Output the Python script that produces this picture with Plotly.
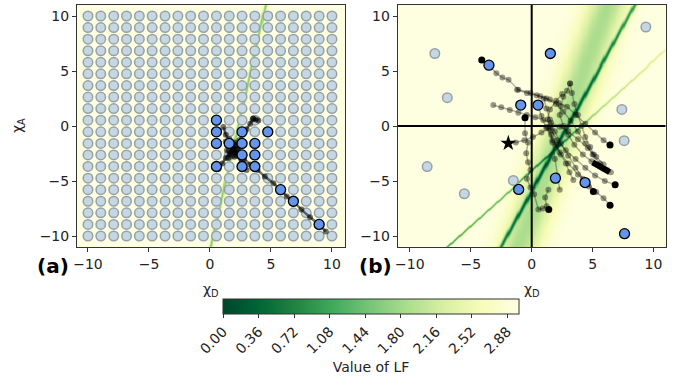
import numpy as np
import plotly.graph_objects as go

# ---------------- data ----------------
grid_vals = [-10.0, -8.95, -7.89, -6.84, -5.79, -4.74, -3.68, -2.63, -1.58, -0.53,
             0.53, 1.58, 2.63, 3.68, 4.74, 5.79, 6.84, 7.89, 8.95, 10.0]

# panel (a) selected points
sel_a_x = [0.53, 0.53, 0.53, 1.58, 2.63, 2.63, 2.63, 3.68, 3.68, 0.53, 2.63, 3.68, 4.74, 5.79, 6.84, 8.95]
sel_a_y = [0.53, -0.53, -1.58, -1.58, -0.53, -1.58, -2.63, -1.58, -2.63, -3.68, -3.68, -3.68, -0.53, -5.79, -6.84, -8.95]

# panel (a) trajectories
traj_a = [
    ([9.5, 8.95, 8.2, 7.5, 6.84, 6.3, 5.79, 5.2, 4.5, 3.9, 3.3, 2.8, 2.3, 2.0],
     [-9.6, -8.95, -8.3, -7.6, -6.84, -6.4, -5.79, -5.2, -4.6, -4.0, -3.5, -3.0, -2.5, -2.1]),
    ([3.55, 3.3, 3.0, 2.7, 2.4, 2.1, 1.9], [0.65, 0.2, -0.3, -0.8, -1.3, -1.7, -2.0]),
    ([0.7, 1.0, 1.3, 1.6, 1.8], [-3.9, -3.4, -2.9, -2.5, -2.1]),
    ([1.1, 1.3, 1.6, 1.8], [-0.1, -0.8, -1.4, -1.9]),
    ([3.0, 2.6, 2.2, 1.9], [-4.0, -3.3, -2.7, -2.2]),
    ([1.3, 1.6, 2.0, 2.4, 2.2, 1.7, 1.4, 1.8, 2.3, 2.0, 1.5, 1.9],
     [-1.4, -1.2, -1.5, -1.9, -2.4, -2.6, -2.2, -1.7, -2.1, -2.8, -2.9, -2.4]),
    ([3.97, 3.75, 3.55], [0.5, 0.6, 0.65]),
]

# panel (b) points
gray_b_x = [-7.95, -6.93, -8.58, -5.53, -1.51, 9.37, 7.40, 7.59]
gray_b_y = [6.59, 2.57, -3.69, -6.16, -4.95, 9.0, 1.51, -1.33]
sel_b_x = [-3.51, 1.53, -0.90, 0.52, -1.07, 1.95, 4.38, 7.62]
sel_b_y = [5.53, 6.59, 1.90, 1.90, -5.77, -4.74, -5.14, -9.79]

# panel (b) trajectories
traj_b = [
    ([-4.1, -3.5, -2.9, -2.4, -1.9, -1.1, -0.1, 0.7, 1.5, 2.2, 2.9, 3.6, 4.4, 5.2, 5.9, 6.4],
     [6.0, 5.5, 4.8, 4.4, 4.2, 3.3, 3.0, 2.7, 2.4, 2.1, 1.75, 1.0, 0.2, -0.6, -1.3, -1.7]),
    ([-3.15, -2.5, -1.8, -1.1, -0.4, 0.3, 0.95, 1.6, 2.3, 3.0, 3.8, 4.6, 5.3, 5.9],
     [1.9, 1.7, 1.45, 1.2, 1.0, 0.8, 0.55, 0.3, -0.06, -0.5, -1.2, -2.0, -2.8, -3.5]),
    ([-1.2, -0.4, 0.4, 1.2, 2.0, 2.6, 3.2, 3.8, 4.4, 5.0, 5.6, 6.2],
     [3.3, 3.0, 2.8, 2.5, 2.0, 1.3, 0.5, -0.5, -1.6, -2.6, -3.4, -4.0]),
    ([3.15, 2.9, 2.6, 2.4, 2.3, 2.6, 3.0, 3.5, 4.2, 4.9, 5.5, 6.0, 6.5],
     [3.87, 3.2, 2.66, 1.8, 1.0, 0.0, -0.8, -1.7, -2.6, -3.2, -3.6, -3.9, -4.2]),
    ([2.5, 2.0, 1.5, 1.3, 1.6, 2.1, 2.8, 3.6, 4.4, 5.2, 6.0, 6.85],
     [2.9, 2.3, 1.5, 0.6, -0.4, -1.3, -2.2, -3.0, -3.8, -4.5, -5.0, -5.35]),
    ([1.0, 1.2, 1.5, 1.9, 2.4, 3.0, 3.6, 4.2, 4.7, 5.06],
     [2.5, 1.6, 0.6, -0.5, -1.6, -2.7, -3.8, -4.8, -5.5, -5.95]),
    ([0.5, 0.8, 1.2, 1.7, 2.3, 3.0, 3.8, 4.6, 5.3, 5.9, 6.43],
     [1.9, 0.9, -0.2, -1.3, -2.4, -3.4, -4.4, -5.3, -6.0, -6.56, -7.2]),
    ([-0.55, -0.55, -0.3, -0.45, -0.3, -0.1, -0.4, -0.1, 0.2, 0.55, 0.9, 1.23, 1.1, 1.37],
     [0.7, -0.66, -1.5, -2.48, -3.3, -4.0, -4.8, -5.6, -6.2, -7.6, -7.5, -7.3, -6.5, -5.8]),
    ([-1.92, -1.3, -0.6, 0.1, 0.8, 1.5], [-1.57, -1.5, -1.3, -1.0, -0.6, -0.2]),
    ([1.23, 1.6, 2.0, 2.4, 2.8, 3.1, 3.42], [-0.06, -0.8, -1.7, -2.6, -3.4, -4.2, -4.9]),
    ([3.15, 3.3, 3.5, 3.8, 4.1, 4.4, 4.8, 5.1], [3.87, 3.0, 2.0, 1.0, 0.0, -1.0, -1.9, -2.6]),
    ([1.5, 1.7, 1.9, 2.1, 2.3], [0.0, -1.5, -3.0, -4.5, -5.8]),
]
heads_b_x = [-4.1, -0.55, 6.43, 6.85, 5.06, 6.43, 1.4]
heads_b_y = [6.0, 0.75, -1.72, -5.35, -5.95, -7.2, -7.6]
star_b_x = [-1.92]
star_b_y = [-1.57]
blob_b_x = [5.0, 5.5, 6.0, 6.4]
blob_b_y = [-3.3, -3.6, -3.9, -4.2]

cbar_ticks = [0.0, 0.36, 0.72, 1.08, 1.44, 1.80, 2.16, 2.52, 2.88]
lf_max = 3.0

# LF landscape parameters (valley lines)
valley_a = dict(x0=2.27, k=0.2045, depth=1.35, width=0.16)        # x = x0 + k*y
valley_b_main = dict(x0=2.9, k=0.5, depth=1.85, width=0.16)
valley_b_band = dict(x0=2.55, k=1 / 3, depth=1.1, width=1.6)
valley_b_thin = dict(c=-4.0, depth=1.45, slope=-0.07, width=0.1)   # y = x + c

# ---------------- LF fields ----------------
g = np.linspace(-11, 11, 241)
X, Y = np.meshgrid(g, g)

def dist_line(v):
    return np.abs(X - v["x0"] - v["k"] * Y) / np.sqrt(1 + v["k"] ** 2)

za = 2.97 - valley_a["depth"] * np.exp(-(dist_line(valley_a) / valley_a["width"]) ** 2)
d3 = np.abs(Y - X - valley_b_thin["c"]) / np.sqrt(2)
zb = (2.97
      - valley_b_main["depth"] * np.exp(-(dist_line(valley_b_main) / valley_b_main["width"]) ** 2)
      - valley_b_band["depth"] * np.exp(-(dist_line(valley_b_band) / valley_b_band["width"]) ** 2)
      - (valley_b_thin["depth"] + valley_b_thin["slope"] * X) * np.exp(-(d3 / valley_b_thin["width"]) ** 2))
za = np.round(np.clip(za, 0, lf_max), 3)
zb = np.round(np.clip(zb, 0, lf_max), 3)

ylgn = ['rgb(255,255,229)', 'rgb(247,252,185)', 'rgb(217,240,163)', 'rgb(173,221,142)',
        'rgb(120,198,121)', 'rgb(65,171,93)', 'rgb(35,132,67)', 'rgb(0,104,55)', 'rgb(0,69,41)']
cscale = [[i / (len(ylgn) - 1), c] for i, c in enumerate(reversed(ylgn))]

# ---------------- figure ----------------
fig = go.Figure()
fig.add_trace(go.Heatmap(x=g, y=g, z=za, coloraxis="coloraxis", zsmooth="best",
                         xaxis="x", yaxis="y", hoverinfo="skip"))
fig.add_trace(go.Heatmap(x=g, y=g, z=zb, coloraxis="coloraxis", zsmooth="best",
                         xaxis="x2", yaxis="y2", hoverinfo="skip"))

GX = [x for y in grid_vals for x in grid_vals]
GY = [y for y in grid_vals for x in grid_vals]
gray_marker = dict(size=9.5, color="rgba(196,215,227,1)", line=dict(color="rgba(150,160,166,1)", width=1.5))
blue_marker = dict(size=10, color="#6495ED", line=dict(color="black", width=1.3))

fig.add_trace(go.Scatter(x=GX, y=GY, mode="markers", marker=gray_marker, xaxis="x", yaxis="y"))

for tx, ty in traj_a:
    fig.add_trace(go.Scatter(x=tx, y=ty, mode="lines+markers", xaxis="x", yaxis="y",
                             line=dict(color="rgba(0,0,0,0.55)", width=2.5),
                             marker=dict(size=6, color="rgba(0,0,0,0.55)")))
fig.add_trace(go.Scatter(x=sel_a_x, y=sel_a_y, mode="markers", marker=blue_marker, xaxis="x", yaxis="y"))

# panel (b)
fig.add_trace(go.Scatter(x=[-11, 11], y=[0, 0], mode="lines", line=dict(color="black", width=2),
                         xaxis="x2", yaxis="y2"))
fig.add_trace(go.Scatter(x=[0, 0], y=[-11, 11], mode="lines", line=dict(color="black", width=2),
                         xaxis="x2", yaxis="y2"))
fig.add_trace(go.Scatter(x=gray_b_x, y=gray_b_y, mode="markers", marker=gray_marker, xaxis="x2", yaxis="y2"))
for tx, ty in traj_b:
    fig.add_trace(go.Scatter(x=tx, y=ty, mode="lines+markers", xaxis="x2", yaxis="y2",
                             line=dict(color="rgba(0,0,0,0.3)", width=1.5),
                             marker=dict(size=6, color="rgba(0,0,0,0.4)")))
fig.add_trace(go.Scatter(x=blob_b_x, y=blob_b_y, mode="lines", line=dict(color="black", width=6),
                         xaxis="x2", yaxis="y2"))
fig.add_trace(go.Scatter(x=heads_b_x, y=heads_b_y, mode="markers", xaxis="x2", yaxis="y2",
                         marker=dict(size=7, color="black")))
fig.add_trace(go.Scatter(x=star_b_x, y=star_b_y, mode="markers", xaxis="x2", yaxis="y2",
                         marker=dict(size=12, color="black", symbol="star")))
fig.add_trace(go.Scatter(x=sel_b_x, y=sel_b_y, mode="markers", marker=blue_marker, xaxis="x2", yaxis="y2"))

W, H = 677, 386
font = dict(family="DejaVu Sans", size=14, color="#222")
axis_common = dict(tickvals=[-10, -5, 0, 5, 10], ticks="outside", ticklen=4, tickwidth=1,
                   tickcolor="#333", showgrid=False, zeroline=False, showline=True, mirror=True,
                   linecolor="#333", linewidth=1, tickfont=font, automargin=False)
ytop, ybot = 1 - 5 / H, 1 - 247 / H
fig.update_layout(
    width=W, height=H, margin=dict(l=0, r=0, t=0, b=0),
    paper_bgcolor="white", plot_bgcolor="white", showlegend=False, font=font,
    xaxis=dict(domain=[77 / W, 345 / W], range=[-10.9, 11.07], anchor="y", **axis_common),
    yaxis=dict(domain=[ybot, ytop], range=[-11, 11], anchor="x", **axis_common),
    xaxis2=dict(domain=[397.7 / W, 665.7 / W], range=[-11, 11], anchor="y2", **axis_common),
    yaxis2=dict(domain=[ybot, ytop], range=[-11, 11], anchor="x2", **axis_common),
    coloraxis=dict(colorscale=cscale, cmin=0, cmax=lf_max,
                   colorbar=dict(orientation="h", x=371 / W, xanchor="center", y=1 - 299 / H,
                                 yanchor="top", len=296, lenmode="pixels", thickness=15,
                                 thicknessmode="pixels", xpad=0, ypad=0, outlinecolor="#333",
                                 outlinewidth=1, ticks="outside", ticklen=4, tickcolor="#333",
                                 tickvals=cbar_ticks, ticktext=[f"{v:.2f}" for v in cbar_ticks],
                                 tickangle=-45, tickfont=font,
                                 title=dict(text="Value of LF", side="bottom", font=font))),
    annotations=[
        dict(text="χ<sub>D</sub>", x=211 / W, y=1 - 290 / H, xref="paper", yref="paper",
             showarrow=False, font=font, xanchor="center", yanchor="middle"),
        dict(text="χ<sub>D</sub>", x=531.7 / W, y=1 - 290 / H, xref="paper", yref="paper",
             showarrow=False, font=font, xanchor="center", yanchor="middle"),
        dict(text="χ<sub>A</sub>", x=18 / W, y=1 - 126 / H, xref="paper", yref="paper",
             showarrow=False, font=font, textangle=-90, xanchor="center", yanchor="middle"),
        dict(text="<b>(a)</b>", x=71 / W, y=1 - 266 / H, xref="paper", yref="paper",
             xanchor="right", yanchor="middle", showarrow=False,
             font=dict(family="DejaVu Sans", size=20, color="black")),
        dict(text="<b>(b)</b>", x=394 / W, y=1 - 266 / H, xref="paper", yref="paper",
             xanchor="right", yanchor="middle", showarrow=False,
             font=dict(family="DejaVu Sans", size=20, color="black")),
    ],
)
fig.write_html("out.html", config={"displayModeBar": False},
               post_script="document.body.style.margin='0px';document.body.style.padding='0px';")
